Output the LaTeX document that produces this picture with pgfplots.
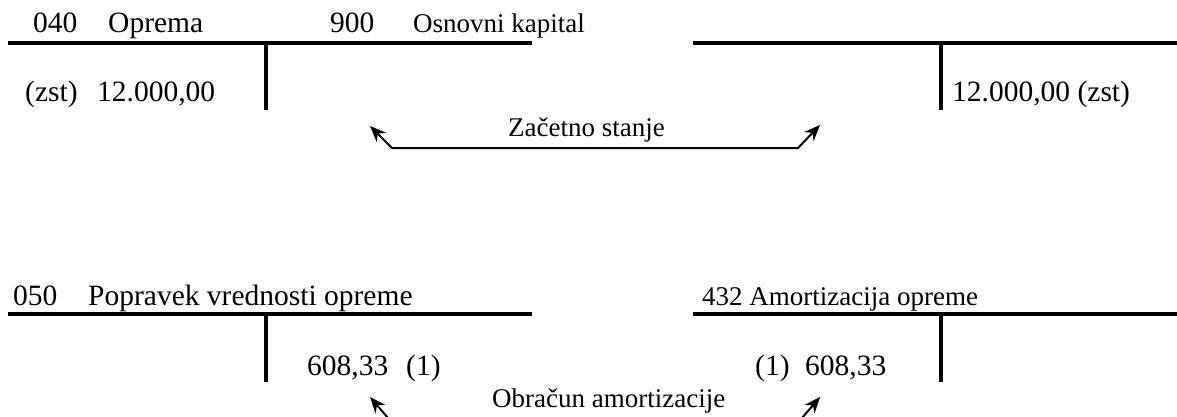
\documentclass[border=0pt]{standalone}
\usepackage{fontspec}
\setmainfont{Liberation Serif}
\usepackage{pgfplots}
\pgfplotsset{compat=1.18}
\usetikzlibrary{arrows.meta}
\newcommand\fa{\fontsize{29.5}{35}\selectfont}
\newcommand\fb{\fontsize{27}{32}\selectfont}
\begin{document}
\begin{tikzpicture}
\begin{axis}[
  scale only axis, width=1177pt, height=417pt,
  xmin=0, xmax=1177, ymin=0, ymax=417, y dir=reverse,
  hide axis, clip=true,
]
% T-account lines (top)
\addplot[black, line width=4pt] coordinates {(8,43) (532,43)};
\addplot[black, line width=4pt] coordinates {(266,43) (266,110)};
\addplot[black, line width=4pt] coordinates {(693,43) (1177,43)};
\addplot[black, line width=4pt] coordinates {(941,43) (941,110)};
% T-account lines (bottom)
\addplot[black, line width=4pt] coordinates {(8,314) (532,314)};
\addplot[black, line width=4pt] coordinates {(266,314) (266,382)};
\addplot[black, line width=4pt] coordinates {(693,314) (1177,314)};
\addplot[black, line width=4pt] coordinates {(941,314) (941,382)};
% arrows
\addplot[black, line width=2pt, {Stealth[length=16pt,width=13pt]}-{Stealth[length=16pt,width=13pt]}] coordinates {(370,126) (392,148) (798,148) (820,125)};
\addplot[black, line width=2pt, -{Stealth[length=16pt,width=13pt]}] coordinates {(394,425) (370,397)};
\addplot[black, line width=2pt, -{Stealth[length=16pt,width=13pt]}] coordinates {(796,425) (820,397)};
% texts top
\node[anchor=base west, inner sep=0pt, font=\fa] at (axis cs:33,33) {040};
\node[anchor=base west, inner sep=0pt, font=\fa] at (axis cs:108,33) {Oprema};
\node[anchor=base west, inner sep=0pt, font=\fa] at (axis cs:330,33) {900};
\node[anchor=base west, inner sep=0pt, font=\fb] at (axis cs:413,33) {Osnovni kapital};
\node[anchor=base west, inner sep=0pt, font=\fa] at (axis cs:25,102) {(zst)};
\node[anchor=base west, inner sep=0pt, font=\fa] at (axis cs:97,102) {12.000,00};
\node[anchor=base west, inner sep=0pt, font=\fa] at (axis cs:952,102) {12.000,00 (zst)};
\node[anchor=base west, inner sep=0pt, font=\fb] at (axis cs:508,136) {Začetno stanje};
% texts bottom
\node[anchor=base west, inner sep=0pt, font=\fa] at (axis cs:13,305) {050};
\node[anchor=base west, inner sep=0pt, font=\fa] at (axis cs:88,305) {Popravek vrednosti opreme};
\node[anchor=base west, inner sep=0pt, font=\fb] at (axis cs:702,305) {432 Amortizacija opreme};
\node[anchor=base west, inner sep=0pt, font=\fa] at (axis cs:307,375) {608,33};
\node[anchor=base west, inner sep=0pt, font=\fa] at (axis cs:406,375) {(1)};
\node[anchor=base west, inner sep=0pt, font=\fa] at (axis cs:755,375) {(1)};
\node[anchor=base west, inner sep=0pt, font=\fa] at (axis cs:805,375) {608,33};
\node[anchor=base west, inner sep=0pt, font=\fb] at (axis cs:492,407) {Obračun amortizacije};
\end{axis}
\pgfresetboundingbox
\useasboundingbox (current axis.south west) rectangle (current axis.north east);
\end{tikzpicture}
\end{document}
